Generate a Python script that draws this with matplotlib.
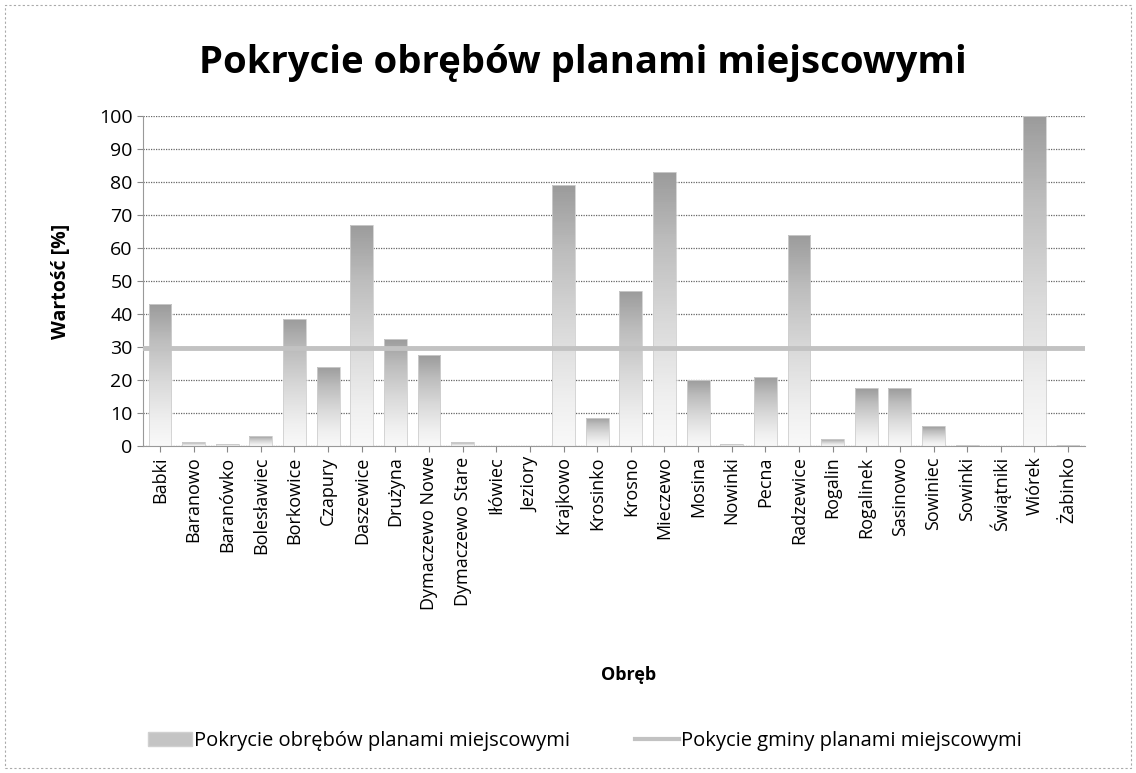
import numpy as np
import matplotlib.pyplot as plt
from matplotlib.patches import Rectangle
from matplotlib.lines import Line2D

plt.rcParams['font.family'] = ['Open Sans', 'DejaVu Sans']

# data
obreby = ['Babki', 'Baranowo', 'Baranówko', 'Bolesławiec', 'Borkowice', 'Czapury',
          'Daszewice', 'Drużyna', 'Dymaczewo Nowe', 'Dymaczewo Stare', 'Iłówiec',
          'Jeziory', 'Krajkowo', 'Krosinko', 'Krosno', 'Mieczewo', 'Mosina', 'Nowinki',
          'Pecna', 'Radzewice', 'Rogalin', 'Rogalinek', 'Sasinowo', 'Sowiniec',
          'Sowinki', 'Świątniki', 'Wiórek', 'Żabinko']
pokrycie = [43, 1.2, 0.5, 3, 38.5, 24, 67, 32.5, 27.5, 1.2, 0, 0, 79, 8.5, 47, 83,
            20, 0.5, 21, 64, 2, 17.5, 17.5, 6, 0.3, 0, 100, 0.3]
gmina = 29.6

fig = plt.figure(figsize=(11.36, 7.73), dpi=100)
ax = fig.add_axes([0.126, 0.423, 0.829, 0.427])

x = np.arange(len(obreby))
bars = ax.bar(x, pokrycie, width=0.68, color='none', edgecolor='#cfcfcf',
              linewidth=0.6, zorder=3)

# gradient fill: mid grey at top, nearly white at bottom
grad = np.linspace(0, 1, 256).reshape(-1, 1)
for b in bars:
    h = b.get_height()
    if h <= 0:
        continue
    x0 = b.get_x()
    im = ax.imshow(grad, extent=[x0, x0 + b.get_width(), 0, h], origin='lower',
                   cmap='Greys', vmin=-0.125, vmax=2.2, aspect='auto', zorder=2.5)
    im.set_clip_path(b)

ax.axhline(gmina, color='#c2c2c2', linewidth=3.5, zorder=4)

ax.set_xlim(-0.5, len(obreby) - 0.5)
ax.set_ylim(0, 100)
ax.set_yticks(range(0, 101, 10))
ax.yaxis.grid(True, linestyle=(0, (1, 1)), color='#666666', linewidth=0.9, zorder=1)
ax.set_axisbelow(True)
ax.set_xticks(x)
ax.set_xticklabels(obreby, rotation=90, fontsize=13)
ax.tick_params(axis='y', labelsize=14, length=4, color='#888888')
ax.tick_params(axis='x', length=4, color='#888888')
for s in ['top', 'right']:
    ax.spines[s].set_visible(False)
ax.spines['left'].set_color('#999999')
ax.spines['bottom'].set_color('#999999')

ax.set_ylabel('Wartość [%]', fontsize=14, fontweight='bold', labelpad=20)
fig.text(0.553, 0.127, 'Obręb', fontsize=13, fontweight='bold', ha='center', va='center')
fig.text(0.513, 0.918, 'Pokrycie obrębów planami miejscowymi', fontsize=27.5,
         fontweight='bold', ha='center', va='center')

handles = [Rectangle((0, 0), 1, 1, facecolor='#c4c4c4', edgecolor='#d0d0d0'),
           Line2D([0], [0], color='#c2c2c2', linewidth=3)]
fig.legend(handles, ['Pokrycie obrębów planami miejscowymi',
                     'Pokycie gminy planami miejscowymi'],
           loc='center', bbox_to_anchor=(0.515, 0.041), ncol=2, frameon=False,
           fontsize=14.5, handlelength=2.2, handletextpad=0.1, columnspacing=3.2)

fig.patches.append(Rectangle((0.004, 0.006), 0.992, 0.988, transform=fig.transFigure,
                             fill=False, edgecolor='#aaaaaa', linewidth=0.8,
                             linestyle=(0, (2, 2))))

fig.savefig('out.png', dpi=100)
